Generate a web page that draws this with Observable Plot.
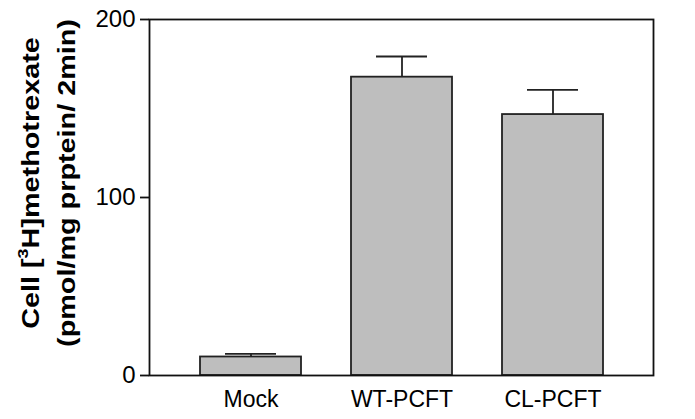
<!DOCTYPE html>
<html><head><meta charset="utf-8">
<script src="https://cdn.jsdelivr.net/npm/d3@7"></script>
<script src="https://cdn.jsdelivr.net/npm/@observablehq/plot@0.6"></script>
<style>body{margin:0;background:#fff}</style>
</head><body><div id="chart"></div>
<script>
const categories = ["Mock", "WT-PCFT", "CL-PCFT"];
const means = [10.4, 167.6, 146.6];
const errors = [1.7, 11.6, 13.9];
const yTicks = [0, 100, 200];
const titleLine1 = ["Cell [", "3", "H]methotrexate"];
const titleLine2 = "(pmol/mg prptein/ 2min)";

const data = categories.map((c, i) => ({group: c, mean: means[i], top: means[i] + errors[i]}));

const plot = Plot.plot({
  width: 695, height: 419,
  marginLeft: 149, marginRight: 42, marginTop: 19, marginBottom: 44,
  style: {fontFamily: "'Liberation Sans', Arial, sans-serif", fontSize: "23px", color: "#000", background: "#fff"},
  x: {domain: categories, padding: 1/3, label: null},
  y: {domain: [0, 200], label: null},
  marks: [
    Plot.axisY({ticks: yTicks, tickSize: 9, tickPadding: 5, label: null, fontSize: 24, stroke: "#111", strokeWidth: 1.8}),
    Plot.axisX({tickSize: 0, tickPadding: 15, label: null, fontSize: 23}),
    Plot.barY(data, {x: "group", y: "mean", fill: "#bebebe", stroke: "#222", strokeWidth: 1.8}),
    Plot.ruleX(data, {x: "group", y1: "mean", y2: "top", stroke: "#222", strokeWidth: 1.8}),
    Plot.tickY(data, {x: "group", y: "top", stroke: "#222", strokeWidth: 1.8, insetLeft: 25, insetRight: 25}),
    Plot.frame({stroke: "#111", strokeWidth: 1.8})
  ]
});

const svg = d3.select(plot);
const g = svg.append("g").attr("transform", "translate(0,183) rotate(-90) scale(1.2,1)")
  .style("font-family", "'Liberation Sans', Arial, sans-serif")
  .style("font-weight", "bold").style("font-size", "24px").attr("fill", "#000");
const t1 = g.append("text").attr("x", 0).attr("y", 39).attr("text-anchor", "middle");
t1.append("tspan").text(titleLine1[0]);
t1.append("tspan").attr("dy", -11).style("font-size", "15px").text(titleLine1[1]);
t1.append("tspan").attr("dy", 11).text(titleLine1[2]);
g.append("text").attr("x", 0).attr("y", 75).attr("text-anchor", "middle").text(titleLine2);

document.getElementById("chart").appendChild(plot);
</script>
</body></html>
